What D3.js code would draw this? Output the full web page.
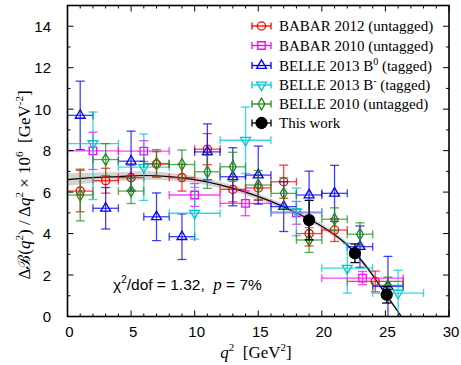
<!DOCTYPE html>
<html>
<head>
<meta charset="utf-8">
<script src="https://cdn.jsdelivr.net/npm/d3@7"></script>
<style>
  body { margin: 0; background: #fff; }
  svg { display: block; }
</style>
</head>
<body>
<div id="chart"></div>
<script>
// rows: [q2 centre, bin low, bin high, value, error up, error down]
const babar2012 = [
  [1, 0, 2, 6.05, 1.0, 1.0], [3, 2, 4, 6.55, 0.6, 0.6], [5, 4, 6, 6.7, 0.6, 0.6], [7, 6, 8, 7.35, 0.6, 0.6],
  [9, 8, 10, 6.7, 0.65, 0.65], [11, 10, 12, 8.07, 0.75, 0.75], [13, 12, 14, 6.13, 0.6, 0.6], [15, 14, 16, 6.2, 0.6, 0.6],
  [17, 16, 18, 6.5, 0.8, 0.8], [19, 18, 20, 4.0, 0.6, 0.6], [21, 20, 22, 4.17, 0.55, 0.55], [24.2, 22, 26.4, 1.69, 0.5, 0.5]
];
const babar2010 = [
  [2, 0, 4, 7.99, 0.9, 0.9], [6, 4, 8, 7.98, 0.5, 0.5], [10, 8, 12, 5.86, 0.55, 0.55],
  [14, 12, 16, 5.46, 0.6, 0.6], [18, 16, 20, 5.0, 0.55, 0.55], [23.2, 20, 26.4, 1.85, 0.32, 0.32]
];
const belle2013B0 = [
  [1, 0, 2, 9.7, 1.65, 1.65], [3, 2, 4, 5.22, 1.0, 1.0], [5, 4, 6, 7.49, 1.45, 1.45], [7, 6, 8, 4.81, 1.15, 1.15],
  [9, 8, 10, 3.85, 1.1, 1.1], [11, 10, 12, 7.94, 1.35, 1.35], [13, 12, 14, 6.74, 1.4, 1.4], [15, 14, 16, 6.82, 1.4, 1.4],
  [17, 16, 18, 5.3, 1.2, 1.2], [19, 18, 20, 5.86, 1.15, 1.15], [21, 20, 22, 5.94, 1.35, 1.35], [23, 22, 24, 3.37, 1.0, 1.0],
  [25.2, 24, 26.4, 1.45, 1.45, 1.45]
];
const belle2013Bm = [
  [2, 0, 4, 8.34, 1.52, 2.7], [6, 4, 8, 7.2, 1.6, 1.6], [10, 8, 12, 4.98, 1.25, 1.25], [14, 12, 16, 8.5, 1.6, 1.6],
  [18, 16, 20, 5.05, 1.15, 1.15], [22, 20, 24, 2.33, 1.2, 1.2], [26, 24, 28, 1.13, 1.1, 1.13]
];
const belle2010 = [
  [1, 0, 2, 5.86, 1.25, 1.25], [3, 2, 4, 7.57, 0.77, 0.77], [5, 4, 6, 6.05, 0.6, 0.6], [7, 6, 8, 7.38, 0.67, 0.67],
  [9, 8, 10, 7.33, 0.7, 0.7], [11, 10, 12, 6.98, 0.8, 0.8], [13, 12, 14, 7.22, 0.7, 0.7], [15, 14, 16, 6.34, 0.7, 0.7],
  [17, 16, 18, 5.94, 0.75, 0.75], [19, 18, 20, 3.69, 0.6, 0.6], [21, 20, 22, 4.69, 0.55, 0.55], [23, 22, 24, 3.97, 0.55, 0.55],
  [25.2, 24, 26.4, 1.5, 0.4, 0.4]
];
const thisWork = [
  [19, 18.7, 19.3, 4.65, 0.95, 0.95], [22.6, 22.3, 22.9, 3.05, 0.45, 0.45], [25.1, 24.8, 25.4, 1.05, 0.4, 0.4]
];
// fit curve and its uncertainty band
const fitQ = [0, 2, 4, 6, 8, 10, 12, 14, 16, 18, 20, 22, 24, 25, 26.25];
const fitV = [6.6, 6.7, 6.75, 6.8, 6.75, 6.6, 6.35, 6.0, 5.55, 5.0, 4.35, 3.45, 2.0, 1.1, 0];
const fitErr = [0.3, 0.25, 0.22, 0.2, 0.18, 0.16, 0.15, 0.14, 0.13, 0.12, 0.12, 0.12, 0.12, 0.12, 0.12];

const xTicks = [0, 5, 10, 15, 20, 25, 30];
const yTicks = [0, 2, 4, 6, 8, 10, 12, 14];

const W = 461, H = 365;
const x = d3.scaleLinear().domain([0, 30]).range([67.5, 449]);
const y = d3.scaleLinear().domain([0, 15]).range([316.5, 5.5]);

const svg = d3.select('#chart').append('svg').attr('width', W).attr('height', H);

// band + fit line
const fit = fitQ.map((q, i) => ({ q, v: fitV[i], e: fitErr[i] }));
svg.append('path')
  .datum(fit)
  .attr('fill', '#c8c8c8')
  .attr('opacity', 0.8)
  .attr('d', d3.area().x(d => x(d.q)).y0(d => y(Math.max(0, d.v - d.e))).y1(d => y(d.v + d.e)).curve(d3.curveMonotoneX));
svg.append('path')
  .datum(fit)
  .attr('fill', 'none')
  .attr('stroke', '#000')
  .attr('stroke-width', 1.2)
  .attr('d', d3.line().x(d => x(d.q)).y(d => y(d.v)).curve(d3.curveMonotoneX));

const marker = {
  circle: () => d3.symbol().type(d3.symbolCircle).size(52)(),
  square: () => d3.symbol().type(d3.symbolSquare).size(56)(),
  up: () => d3.symbol().type(d3.symbolTriangle).size(42)(),
  down: () => d3.symbol().type(d3.symbolTriangle).size(42)(),
  diamond: () => d3.symbol().type(d3.symbolDiamond).size(40)(),
  dot: () => d3.symbol().type(d3.symbolCircle).size(95)()
};

const series = [
  { name: 'BABAR 2012 (untagged)', data: babar2012, color: '#ff0000', shape: 'circle' },
  { name: 'BABAR 2010 (untagged)', data: babar2010, color: '#ff00ff', shape: 'square' },
  { name: 'BELLE 2013 B0', data: belle2013B0, color: '#0000ff', shape: 'up' },
  { name: 'BELLE 2013 B-', data: belle2013Bm, color: '#00c8d2', shape: 'down' },
  { name: 'BELLE 2010 (untagged)', data: belle2010, color: '#1e8c1e', shape: 'diamond' },
  { name: 'This work', data: thisWork, color: '#000000', shape: 'dot' }
];

const plot = svg.append('g');
const capW = 4.5, capH = 4;

series.forEach(s => {
  const g = plot.append('g')
    .attr('stroke', s.color)
    .attr('stroke-width', 1.3);
  const pts = g.selectAll('g.pt').data(s.data).enter().append('g').attr('class', 'pt');
  const bars = pts.append('g').attr('stroke-opacity', s.shape === 'dot' ? 1 : 0.75);
  // horizontal bin bar + end ticks
  bars.append('line')
    .attr('x1', d => x(d[1])).attr('x2', d => x(d[2]))
    .attr('y1', d => y(d[3])).attr('y2', d => y(d[3]));
  bars.append('line')
    .attr('x1', d => x(d[1])).attr('x2', d => x(d[1]))
    .attr('y1', d => y(d[3]) - capH).attr('y2', d => y(d[3]) + capH);
  bars.append('line')
    .attr('x1', d => x(d[2])).attr('x2', d => x(d[2]))
    .attr('y1', d => y(d[3]) - capH).attr('y2', d => y(d[3]) + capH);
  // vertical error bar + caps
  bars.append('line')
    .attr('x1', d => x(d[0])).attr('x2', d => x(d[0]))
    .attr('y1', d => y(Math.max(0, d[3] - d[5]))).attr('y2', d => y(d[3] + d[4]));
  bars.append('line')
    .attr('x1', d => x(d[0]) - capW).attr('x2', d => x(d[0]) + capW)
    .attr('y1', d => y(d[3] + d[4])).attr('y2', d => y(d[3] + d[4]));
  bars.filter(d => d[3] - d[5] > 0.05).append('line')
    .attr('x1', d => x(d[0]) - capW).attr('x2', d => x(d[0]) + capW)
    .attr('y1', d => y(d[3] - d[5])).attr('y2', d => y(d[3] - d[5]));
  pts.append('path')
    .attr('d', marker[s.shape]())
    .attr('transform', d => `translate(${x(d[0])},${y(d[3])})${s.shape === 'down' ? ' rotate(180)' : ''}`)
    .attr('fill', s.shape === 'dot' ? '#000' : 'none')
    .attr('stroke-width', 1.3);
});

// frame
svg.append('rect')
  .attr('x', x(0)).attr('y', y(15))
  .attr('width', x(30) - x(0)).attr('height', y(0) - y(15))
  .attr('fill', 'none').attr('stroke', '#000').attr('stroke-width', 1.6);

// ticks, mirrored on all sides
const tk = svg.append('g').attr('stroke', '#000').attr('stroke-width', 1);
d3.range(0, 31, 1).forEach(v => {
  const len = v % 5 === 0 ? 6 : 3;
  tk.append('line').attr('x1', x(v)).attr('x2', x(v)).attr('y1', y(0)).attr('y2', y(0) - len);
  tk.append('line').attr('x1', x(v)).attr('x2', x(v)).attr('y1', y(15)).attr('y2', y(15) + len);
});
d3.range(0, 16, 1).forEach(v => {
  const len = v % 2 === 0 ? 6 : 3;
  tk.append('line').attr('x1', x(0)).attr('x2', x(0) + len).attr('y1', y(v)).attr('y2', y(v));
  tk.append('line').attr('x1', x(30)).attr('x2', x(30) - len).attr('y1', y(v)).attr('y2', y(v));
});

const sans = 'Liberation Sans, Arial, sans-serif';
const serif = 'Liberation Serif, Times New Roman, serif';

svg.append('g').selectAll('text').data(xTicks).enter().append('text')
  .attr('x', d => x(d) + 2).attr('y', 337)
  .attr('text-anchor', 'middle')
  .attr('font-family', sans).attr('font-size', 15)
  .text(d => d);
svg.append('g').selectAll('text').data(yTicks).enter().append('text')
  .attr('x', 51).attr('y', d => y(d) + 5.5)
  .attr('text-anchor', 'end')
  .attr('font-family', sans).attr('font-size', 15)
  .text(d => d);

// x label
const xl = svg.append('text')
  .attr('x', 256).attr('y', 358)
  .attr('text-anchor', 'middle')
  .attr('font-family', serif).attr('font-size', 17);
xl.append('tspan').attr('font-style', 'italic').text('q');
xl.append('tspan').attr('font-size', 11).attr('dy', -7).text('2');
xl.append('tspan').attr('dy', 7).text('\u00a0\u00a0[GeV');
xl.append('tspan').attr('font-size', 11).attr('dy', -7).text('2');
xl.append('tspan').attr('dy', 7).text(']');

// y label
const yl = svg.append('text')
  .attr('transform', 'translate(30,185) rotate(-90)')
  .attr('text-anchor', 'middle')
  .attr('font-family', serif).attr('font-size', 17);
yl.append('tspan').text('\u0394\u212c(');
yl.append('tspan').attr('font-style', 'italic').text('q');
yl.append('tspan').attr('font-size', 11).attr('dy', -7).text('2');
yl.append('tspan').attr('dy', 7).text(') / \u0394');
yl.append('tspan').attr('font-style', 'italic').text('q');
yl.append('tspan').attr('font-size', 11).attr('dy', -7).text('2');
yl.append('tspan').attr('dy', 7).text(' \u00d7 10');
yl.append('tspan').attr('font-size', 11).attr('dy', -7).text('6');
yl.append('tspan').attr('dy', 7).text('\u00a0\u00a0[GeV');
yl.append('tspan').attr('font-size', 11).attr('dy', -7).text('-2');
yl.append('tspan').attr('dy', 7).text(']');

// chi2 annotation
const ct = svg.append('text')
  .attr('x', 113).attr('y', 290)
  .attr('font-family', sans).attr('font-size', 15.5);
ct.append('tspan').text('\u03c7');
ct.append('tspan').attr('font-size', 10).attr('dy', -7).text('2');
ct.append('tspan').attr('dy', 7).text('/dof = 1.32,\u00a0\u00a0');
ct.append('tspan').attr('font-family', serif).attr('font-style', 'italic').attr('font-size', 17).text('p');
ct.append('tspan').text(' = 7%');

// legend
const legendY = [26, 45.5, 65.5, 85, 104, 123];
const leg = svg.append('g');
series.forEach((s, i) => {
  const ly = legendY[i];
  const g = leg.append('g').attr('stroke', s.color).attr('stroke-width', 1.3);
  g.append('line').attr('x1', 252).attr('x2', 271).attr('y1', ly).attr('y2', ly);
  g.append('line').attr('x1', 252).attr('x2', 252).attr('y1', ly - 3.5).attr('y2', ly + 3.5);
  g.append('line').attr('x1', 271).attr('x2', 271).attr('y1', ly - 3.5).attr('y2', ly + 3.5);
  g.append('path')
    .attr('d', marker[s.shape]())
    .attr('transform', `translate(261.5,${ly})${s.shape === 'down' ? ' rotate(180)' : ''}`)
    .attr('fill', s.shape === 'dot' ? '#000' : 'none');
  const t = leg.append('text')
    .attr('x', 279).attr('y', ly + 5)
    .attr('font-family', serif).attr('font-size', 15);
  if (i === 2 || i === 3) {
    t.append('tspan').text('BELLE 2013 B');
    t.append('tspan').attr('font-size', 10).attr('dy', -6).text(i === 2 ? '0' : '-');
    t.append('tspan').attr('dy', 6).text(' (tagged)');
  } else {
    t.text(s.name);
  }
});
</script>
</body>
</html>
